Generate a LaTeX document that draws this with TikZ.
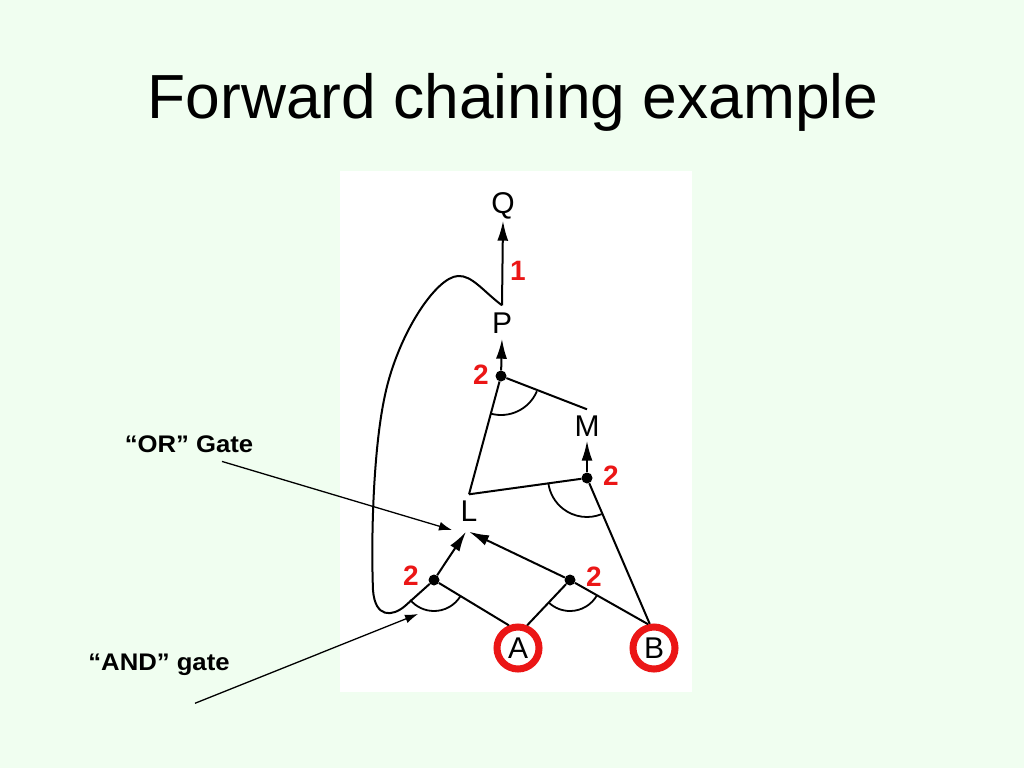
\documentclass[tikz,border=0pt]{standalone}
\usepackage{fontspec}
\setmainfont{Liberation Sans}
\usetikzlibrary{arrows.meta}
\definecolor{bgc}{RGB}{240,254,240}
\definecolor{redc}{RGB}{235,22,22}
\begin{document}
\begin{tikzpicture}[x=1pt,y=-1pt,
  letter/.style={inner sep=0pt, text height=21pt, text depth=0pt, font=\fontsize{30}{32}\selectfont},
  num/.style={text=redc, inner sep=0pt, font=\bfseries\fontsize{28}{30}\selectfont},
  dot/.style={circle, fill=black, inner sep=0pt, minimum size=11pt},
  fact/.style={circle, draw=redc, line width=7pt, minimum size=42pt, inner sep=0pt, text height=21pt, text depth=0pt, font=\fontsize{30}{32}\selectfont},
  ln/.style={line width=2pt, draw=black},
  arr/.style={ln, -{Latex[length=20pt,width=11pt]}},
  ann/.style={line width=1.3pt, -{Latex[length=13pt,width=9pt]}},
  gatearc/.style={line width=1.8pt},
  lbl/.style={font=\bfseries\fontsize{24}{26}\selectfont, anchor=base, inner sep=0pt}]
\useasboundingbox (0,0) rectangle (1024,768);
\fill[bgc] (0,0) rectangle (1024,768);
\fill[white] (340,171) rectangle (692,692);
% title
\node[anchor=base, inner sep=0pt, font=\fontsize{62.3}{70}\selectfont] (title) at (513,118) {Forward chaining example};
% symbols
\node[letter] (Q) at (503,203) {Q};
\node[letter] (P) at (502,323) {P};
\node[letter] (M) at (587,426) {M};
\node[letter] (L) at (469,511) {L};
\node[fact] (A) at (518,648) {A};
\node[fact] (B) at (654,648) {B};
% gates
\node[dot] (dP) at (501,376) {};
\node[dot] (dM) at (587,478) {};
\node[dot] (dL1) at (434,580) {};
\node[dot] (dL2) at (570,580) {};
% counts
\node[num] (n1) at (518,271) {1};
\node[num] (n2) at (481,375) {2};
\node[num] (n3) at (611,476) {2};
\node[num] (n4) at (411,576) {2};
\node[num] (n5) at (594,577) {2};
% connectors
\draw[arr] ([yshift=7pt]P.north) -- ([yshift=-7pt]Q.south);
\draw[arr] (dP) -- ([yshift=-5pt]P.south);
\draw[ln] (dP) -- ([yshift=6pt]M.north);
\draw[ln] (dP) -- ([yshift=6pt]L.north);
\draw[arr] (dM) -- ([yshift=-4pt]M.south);
\draw[ln] (dM) -- ([yshift=6pt]L.north);
\draw[ln] (dM) -- (B.100);
\draw[arr] (dL1) -- ([xshift=-3pt,yshift=-10pt]L.south);
\draw[arr] (dL2) -- ([yshift=-10pt]L.south);
\draw[ln] (dL1) -- (A.112);
\draw[ln] (dL2) -- (A.68);
\draw[ln] (dL2) -- (B.104);
\draw[ln] ([yshift=7pt]P.north) .. controls (484,292) and (472,275) .. (458,276)
  .. controls (436,277) and (398,334) .. (385,395)
  .. controls (373,450) and (371,540) .. (373,590)
  .. controls (375,618) and (392,617) .. (405,606) -- (dL1);
% AND-gate arcs
\draw[gatearc] ([shift={(23:39)}]dP.center) arc[start angle=23, end angle=106, radius=39];
\draw[gatearc] ([shift={(68:39)}]dM.center) arc[start angle=68, end angle=172, radius=39];
\draw[gatearc] ([shift={(31:31)}]dL1.center) arc[start angle=31, end angle=140, radius=31];
\draw[gatearc] ([shift={(29:31)}]dL2.center) arc[start angle=29, end angle=134, radius=31];
% annotations
\node[lbl] (orlab) at (189,452) {\scalebox{1.07}[1]{“OR” Gate}};
\node[lbl] (andlab) at (159,670) {\scalebox{1.07}[1]{“AND” gate}};
\coordinate (orTip) at (452,530);
\coordinate (andTip) at (418,614);
\draw[ann] ([shift={(33,9)}]orlab.south) -- (orTip);
\draw[ann] ([shift={(36,28)}]andlab.south) -- (andTip);
\end{tikzpicture}
\end{document}
